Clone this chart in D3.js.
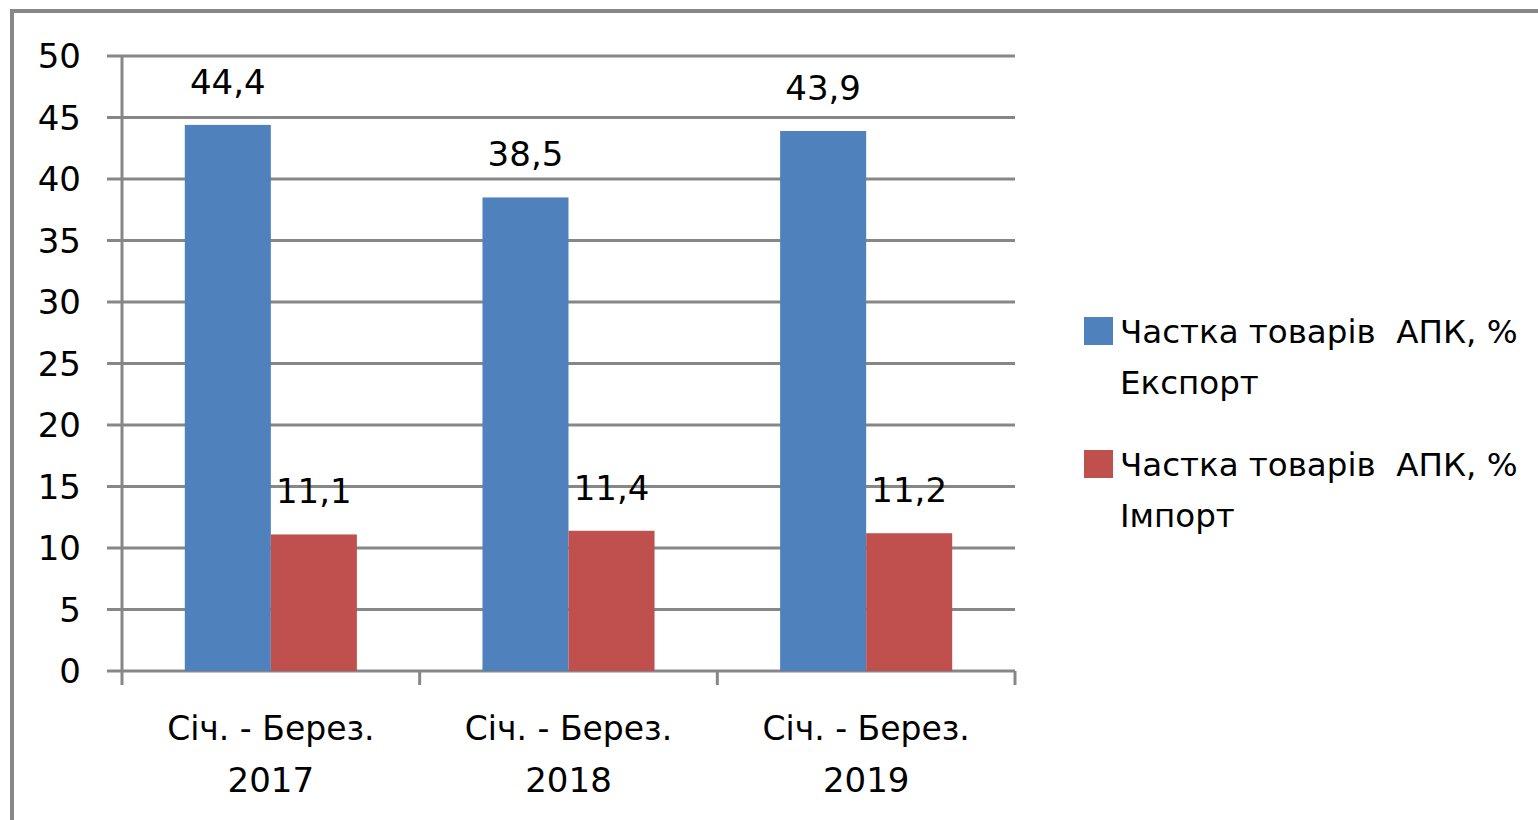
<!DOCTYPE html>
<html>
<head>
<meta charset="utf-8">
<script src="https://cdn.jsdelivr.net/npm/d3@7"></script>
<style>
  html, body { margin: 0; padding: 0; background: #fff; }
  svg { display: block; font-family: "DejaVu Sans", Verdana, sans-serif; }
</style>
</head>
<body>
<svg id="chart" width="1538" height="820"></svg>
<script>
const categories = [['Січ. - Берез.', '2017'], ['Січ. - Берез.', '2018'], ['Січ. - Берез.', '2019']];
const seriesNames = [['Частка товарів  АПК, %', 'Експорт'], ['Частка товарів  АПК, %', 'Імпорт']];
const exportValues = [44.4, 38.5, 43.9];
const importValues = [11.1, 11.4, 11.2];
const yTicks = [0, 5, 10, 15, 20, 25, 30, 35, 40, 45, 50];
const colors = ['#4f81bd', '#c0504d'];

const svg = d3.select('#chart');
const grid = '#878787';

// outer frame (only left/top visible in the picture)
svg.append('rect')
  .attr('x', 12).attr('y', 11).attr('width', 1600).attr('height', 900)
  .attr('fill', 'none').attr('stroke', grid).attr('stroke-width', 4);

const plot = { left: 122, right: 1015, top: 56, bottom: 671 };

const x = d3.scaleBand().domain(d3.range(categories.length))
  .range([plot.left, plot.right]).paddingInner(0).paddingOuter(0);
const inner = d3.scaleBand().domain([0, 1])
  .range([0, x.bandwidth()]).paddingOuter(0.73).paddingInner(0);
const y = d3.scaleLinear().domain([0, 50]).range([plot.bottom, plot.top]);

// gridlines + y ticks
const g = svg.append('g');
g.selectAll('line.grid').data(yTicks).join('line')
  .attr('x1', plot.left - 15).attr('x2', plot.right)
  .attr('y1', d => y(d)).attr('y2', d => y(d))
  .attr('stroke', grid).attr('stroke-width', 3);

g.selectAll('text.ylab').data(yTicks).join('text')
  .attr('x', 81).attr('y', d => y(d) + 12)
  .attr('text-anchor', 'end')
  .attr('font-size', 34).attr('fill', '#000')
  .text(d => d);

// bars
const data = categories.map((c, i) => [exportValues[i], importValues[i]]);
const groups = svg.append('g').selectAll('g').data(data).join('g')
  .attr('transform', (d, i) => `translate(${x(i)},0)`);

groups.selectAll('rect').data(d => d).join('rect')
  .attr('x', (d, j) => inner(j))
  .attr('width', inner.bandwidth())
  .attr('y', d => y(d))
  .attr('height', d => y(0) - y(d))
  .attr('fill', (d, j) => colors[j]);

groups.selectAll('text').data(d => d).join('text')
  .attr('x', (d, j) => inner(j) + inner.bandwidth() / 2)
  .attr('y', d => y(d) - 31)
  .attr('text-anchor', 'middle')
  .attr('font-size', 34).attr('fill', '#000')
  .text(d => String(d).replace('.', ','));

// x axis line + category ticks
svg.append('line')
  .attr('x1', plot.left).attr('x2', plot.left)
  .attr('y1', plot.top).attr('y2', plot.bottom + 14)
  .attr('stroke', grid).attr('stroke-width', 3);
svg.selectAll('line.xtick').data(d3.range(1, categories.length + 1)).join('line')
  .attr('x1', i => i < categories.length ? x(i) : plot.right)
  .attr('x2', i => i < categories.length ? x(i) : plot.right)
  .attr('y1', plot.bottom).attr('y2', plot.bottom + 14)
  .attr('stroke', grid).attr('stroke-width', 3);

const catLab = svg.append('g').selectAll('text').data(categories).join('text')
  .attr('text-anchor', 'middle')
  .attr('font-size', 33).attr('fill', '#000');
catLab.append('tspan')
  .attr('x', (d, i) => x(i) + x.bandwidth() / 2).attr('y', 740)
  .text(d => d[0]);
catLab.append('tspan')
  .attr('x', (d, i) => x(i) + x.bandwidth() / 2).attr('y', 792)
  .attr('font-size', 34)
  .text(d => d[1]);

// legend
const leg = svg.append('g').selectAll('g').data(seriesNames).join('g')
  .attr('transform', (d, i) => `translate(1084,${317 + i * 133})`);
leg.append('rect')
  .attr('width', 29).attr('height', 28)
  .attr('fill', (d, i) => colors[i]);
leg.append('text')
  .attr('font-size', 32.5).attr('fill', '#000')
  .attr('xml:space', 'preserve')
  .style('white-space', 'pre')
  .selectAll('tspan').data(d => d).join('tspan')
  .attr('x', 36).attr('y', (d, k) => 26 + k * 51)
  .text(d => d);
</script>
</body>
</html>
